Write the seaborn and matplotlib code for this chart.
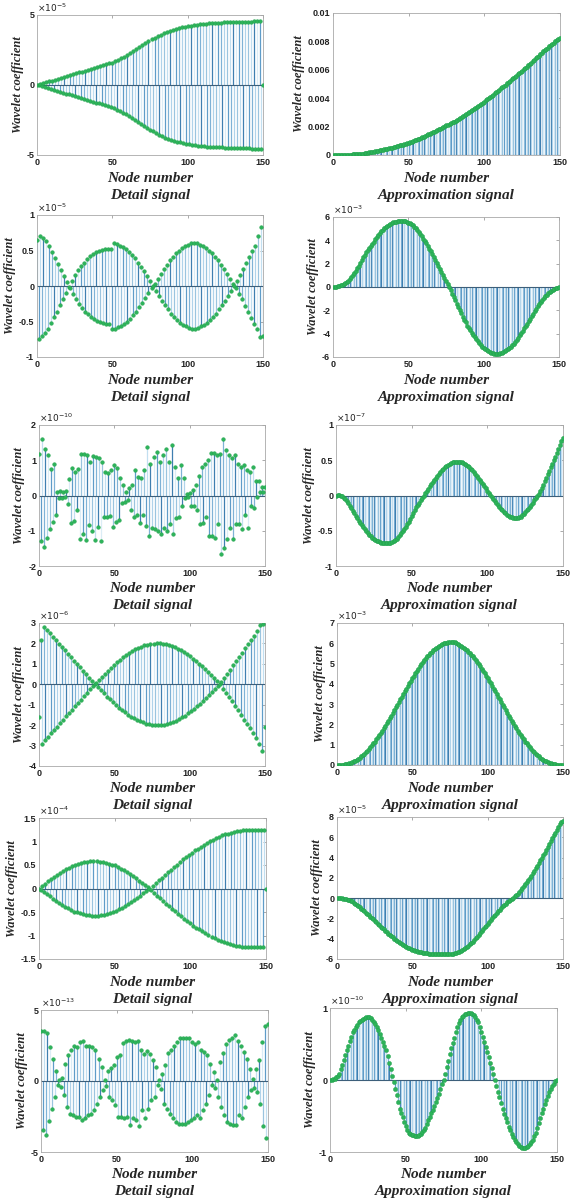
import numpy as np
import matplotlib
matplotlib.use('Agg')
import matplotlib.pyplot as plt
import seaborn as sns

# =====================================
# Data (values in units of the axis multiplier, node 0..150)
# =====================================
nodes = np.arange(151)

detail_1 = [
    0.00, -0.03, 0.06, -0.10, 0.13, -0.16, 0.19, -0.22, 0.26, -0.29,
    0.32, -0.35, 0.38, -0.42, 0.45, -0.48, 0.51, -0.54, 0.58, -0.61,
    0.64, -0.67, 0.70, -0.74, 0.77, -0.80, 0.83, -0.86, 0.90, -0.93,
    0.96, -0.99, 1.02, -1.06, 1.09, -1.12, 1.15, -1.18, 1.22, -1.25,
    1.28, -1.31, 1.34, -1.38, 1.41, -1.44, 1.47, -1.50, 1.54, -1.57,
    1.60, -1.65, 1.70, -1.75, 1.80, -1.85, 1.91, -1.97, 2.03, -2.09,
    2.15, -2.22, 2.29, -2.36, 2.43, -2.50, 2.57, -2.64, 2.71, -2.78,
    2.85, -2.92, 2.99, -3.06, 3.13, -3.20, 3.26, -3.32, 3.38, -3.44,
    3.50, -3.55, 3.60, -3.65, 3.70, -3.75, 3.79, -3.83, 3.87, -3.91,
    3.95, -3.98, 4.01, -4.04, 4.07, -4.10, 4.12, -4.14, 4.16, -4.18,
    4.20, -4.22, 4.24, -4.26, 4.28, -4.30, 4.31, -4.33, 4.34, -4.36,
    4.37, -4.38, 4.39, -4.40, 4.41, -4.42, 4.43, -4.43, 4.44, -4.44,
    4.45, -4.45, 4.46, -4.46, 4.47, -4.47, 4.48, -4.48, 4.49, -4.49,
    4.50, -4.50, 4.50, -4.51, 4.51, -4.51, 4.52, -4.52, 4.52, -4.53,
    4.53, -4.53, 4.53, -4.54, 4.54, -4.54, 4.54, -4.55, 4.55, -4.55, 0.00]

detail_2 = [
    0.65, -0.75, 0.70, -0.71, 0.68, -0.66, 0.63, -0.60, 0.56, -0.52,
    0.48, -0.44, 0.40, -0.36, 0.31, -0.27, 0.23, -0.18, 0.14, -0.10,
    0.05, -0.01, -0.03, 0.07, -0.11, 0.15, -0.18, 0.22, -0.25, 0.28,
    -0.31, 0.33, -0.36, 0.38, -0.40, 0.42, -0.44, 0.45, -0.47, 0.48,
    -0.49, 0.50, -0.51, 0.51, -0.52, 0.52, -0.53, 0.52, -0.54, 0.52,
    -0.60, 0.60, -0.60, 0.59, -0.58, 0.57, -0.56, 0.55, -0.54, 0.52,
    -0.50, 0.48, -0.46, 0.44, -0.41, 0.39, -0.36, 0.33, -0.30, 0.27,
    -0.24, 0.21, -0.17, 0.14, -0.10, 0.07, -0.03, 0.00, 0.03, -0.07,
    0.10, -0.14, 0.17, -0.21, 0.24, -0.27, 0.30, -0.33, 0.36, -0.39,
    0.41, -0.44, 0.46, -0.48, 0.50, -0.52, 0.54, -0.55, 0.56, -0.57,
    0.58, -0.59, 0.60, -0.60, 0.60, -0.60, 0.60, -0.59, 0.58, -0.57,
    0.56, -0.55, 0.54, -0.52, 0.50, -0.48, 0.46, -0.44, 0.41, -0.39,
    0.36, -0.33, 0.30, -0.27, 0.24, -0.21, 0.17, -0.14, 0.10, -0.07,
    0.03, 0.00, -0.03, 0.07, -0.11, 0.15, -0.19, 0.24, -0.28, 0.32,
    -0.36, 0.41, -0.45, 0.49, -0.53, 0.57, -0.61, 0.70, -0.72, 0.83, -0.70]

detail_3 = [
    1.19, -1.30, 1.60, -1.45, 1.33, -1.20, 1.14, -0.95, 0.75, -0.75,
    0.90, -0.55, 0.10, -0.08, 0.12, -0.06, 0.10, -0.05, 0.12, -0.25,
    0.48, -0.78, 0.77, -0.72, 0.67, -0.40, 0.75, -1.22, 1.19, -1.08,
    1.17, -1.25, 1.14, -0.85, 0.95, -1.00, 1.12, -1.25, 1.10, -0.90,
    1.05, -1.30, 0.95, -0.60, 0.67, -0.62, 0.63, -0.58, 0.72, -0.88,
    0.86, -0.75, 0.77, -0.70, 0.49, -0.20, 0.30, -0.18, 0.11, -0.12,
    0.20, -0.40, 0.30, -0.60, 0.72, -0.55, 0.53, -0.78, 0.50, -0.55,
    0.72, -0.87, 1.37, -1.15, 0.90, -0.92, 1.10, -0.96, 1.23, -1.00,
    0.95, -1.10, 1.14, -0.92, 1.33, -1.00, 0.95, -0.82, 1.42, -1.10,
    0.81, -0.64, 0.49, -0.60, 0.86, -0.30, 0.49, -0.08, 0.03, -0.04,
    0.08, -0.30, 0.15, -0.30, 0.30, -0.40, 0.55, -0.82, 0.80, -0.78,
    0.90, -0.60, 1.00, -1.15, 1.20, -1.15, 1.20, -1.20, 1.14, -0.82,
    1.19, -1.66, 1.60, -1.48, 1.28, -1.24, 1.14, -0.92, 1.05, -1.24,
    1.14, -0.82, 0.90, -0.82, 0.81, -0.96, 0.86, -0.54, 0.72, -0.92,
    0.67, -0.30, 0.80, -0.35, 0.40, -0.03, 0.40, 0.11, 0.25, 0.10, 0.25]

detail_4 = [
    -1.60, 2.15, -2.90, 2.82, -2.74, 2.65, -2.57, 2.49, -2.40, 2.32,
    -2.24, 2.16, -2.07, 1.99, -1.91, 1.82, -1.74, 1.66, -1.57, 1.49,
    -1.41, 1.33, -1.24, 1.16, -1.08, 0.99, -0.91, 0.83, -0.75, 0.66,
    -0.58, 0.50, -0.41, 0.33, -0.25, 0.17, -0.08, 0.00, 0.08, -0.15,
    0.23, -0.30, 0.38, -0.45, 0.52, -0.60, 0.67, -0.74, 0.81, -0.88,
    0.95, -1.01, 1.08, -1.14, 1.20, -1.26, 1.32, -1.37, 1.43, -1.48,
    1.53, -1.58, 1.62, -1.67, 1.71, -1.74, 1.78, -1.81, 1.84, -1.87,
    1.90, -1.92, 1.94, -1.96, 1.97, -1.98, 1.99, -2.00, 2.00, -2.00,
    2.00, -1.99, 1.98, -1.97, 1.96, -1.94, 1.92, -1.90, 1.87, -1.84,
    1.81, -1.78, 1.74, -1.71, 1.67, -1.62, 1.58, -1.53, 1.48, -1.43,
    1.37, -1.32, 1.26, -1.20, 1.14, -1.08, 1.01, -0.95, 0.88, -0.81,
    0.74, -0.67, 0.60, -0.52, 0.45, -0.38, 0.30, -0.23, 0.15, -0.08,
    0.00, 0.10, -0.21, 0.31, -0.41, 0.52, -0.62, 0.72, -0.83, 0.93,
    -1.05, 1.14, -1.28, 1.34, -1.52, 1.55, -1.75, 1.76, -1.95, 1.97,
    -2.15, 2.17, -2.40, 2.38, -2.65, 2.59, -2.90, 2.90, -3.25, 2.95, -2.10]

detail_5 = [
    0.00, -0.03, 0.05, -0.08, 0.10, -0.12, 0.15, -0.17, 0.20, -0.22,
    0.24, -0.27, 0.29, -0.31, 0.33, -0.35, 0.37, -0.39, 0.41, -0.42,
    0.44, -0.46, 0.47, -0.49, 0.50, -0.51, 0.52, -0.53, 0.54, -0.55,
    0.56, -0.56, 0.57, -0.57, 0.58, -0.58, 0.58, -0.58, 0.58, -0.58,
    0.57, -0.57, 0.56, -0.56, 0.55, -0.54, 0.53, -0.52, 0.51, -0.50,
    0.49, -0.47, 0.46, -0.44, 0.42, -0.41, 0.39, -0.37, 0.35, -0.33,
    0.31, -0.29, 0.27, -0.24, 0.22, -0.20, 0.17, -0.15, 0.12, -0.10,
    0.08, -0.05, 0.03, 0.00, -0.03, 0.06, -0.09, 0.12, -0.15, 0.18,
    -0.20, 0.23, -0.26, 0.29, -0.32, 0.35, -0.38, 0.40, -0.43, 0.46,
    -0.48, 0.51, -0.54, 0.56, -0.59, 0.62, -0.64, 0.67, -0.69, 0.72,
    -0.74, 0.76, -0.79, 0.81, -0.83, 0.85, -0.87, 0.89, -0.91, 0.93,
    -0.95, 0.97, -0.99, 1.01, -1.03, 1.04, -1.06, 1.07, -1.09, 1.10,
    -1.12, 1.13, -1.14, 1.15, -1.16, 1.17, -1.18, 1.19, -1.20, 1.21,
    -1.22, 1.22, -1.23, 1.23, -1.24, 1.24, -1.24, 1.25, -1.25, 1.25,
    -1.25, 1.25, -1.25, 1.25, -1.25, 1.25, -1.25, 1.25, -1.25, 1.25, 0.00]

detail_6 = [
    3.50, -3.46, 3.50, -3.80, 3.35, -2.80, 2.40, -1.94, 1.56, -1.12,
    0.70, -0.30, 0.10, -0.45, 0.20, -1.00, 1.20, -1.80, 1.80, -2.30,
    2.20, -2.40, 2.50, -2.50, 2.40, -2.50, 2.73, -2.75, 2.80, -2.60,
    2.43, -2.40, 2.43, -2.30, 2.40, -2.05, 2.15, -1.60, 1.57, -1.12,
    1.00, -0.65, 0.10, -0.37, 0.68, -1.10, 0.90, -1.35, 1.10, -1.70,
    1.70, -2.57, 1.80, -2.50, 2.66, -2.60, 2.80, -2.50, 2.90, -3.10,
    2.85, -2.60, 2.73, -2.75, 2.80, -3.20, 2.15, -2.05, 1.90, -2.60,
    2.10, -1.94, 1.90, -1.35, 1.50, -1.10, 1.00, -0.30, 0.10, -0.54,
    0.50, -1.60, 1.10, -1.94, 1.96, -2.30, 2.20, -2.60, 2.50, -2.87,
    2.73, -3.00, 3.04, -3.00, 3.04, -3.04, 3.04, -2.87, 3.04, -2.75,
    2.73, -2.60, 2.60, -2.40, 2.73, -2.60, 2.15, -2.05, 2.03, -1.60,
    1.80, -1.00, 1.20, -0.30, 0.63, -0.47, 0.05, -1.10, 1.33, -1.80,
    2.00, -2.40, 2.60, -2.87, 2.90, -3.00, 3.04, -3.10, 3.25, -3.10,
    2.85, -2.40, 2.50, -2.60, 2.03, -1.80, 1.56, -1.12, 0.86, -0.65,
    0.16, -0.47, 0.86, -0.77, 1.45, -1.60, 2.73, -3.20, 3.90, -4.00, 4.00]

approx_1 = [
    0.00, 0.00, 0.00, 0.00, 0.01, 0.01, 0.01, 0.01, 0.02, 0.02,
    0.02, 0.03, 0.03, 0.04, 0.05, 0.05, 0.06, 0.07, 0.08, 0.09,
    0.10, 0.12, 0.14, 0.16, 0.18, 0.20, 0.22, 0.24, 0.26, 0.28,
    0.30, 0.32, 0.35, 0.37, 0.40, 0.42, 0.45, 0.47, 0.50, 0.52,
    0.55, 0.58, 0.61, 0.64, 0.67, 0.70, 0.73, 0.76, 0.79, 0.82,
    0.85, 0.89, 0.94, 0.98, 1.03, 1.07, 1.12, 1.16, 1.21, 1.25,
    1.30, 1.35, 1.40, 1.45, 1.50, 1.55, 1.60, 1.65, 1.70, 1.75,
    1.80, 1.86, 1.91, 1.97, 2.02, 2.08, 2.13, 2.19, 2.24, 2.30,
    2.35, 2.42, 2.48, 2.55, 2.61, 2.68, 2.74, 2.81, 2.87, 2.94,
    3.00, 3.08, 3.15, 3.23, 3.30, 3.38, 3.45, 3.53, 3.60, 3.68,
    3.75, 3.84, 3.92, 4.01, 4.09, 4.18, 4.26, 4.35, 4.43, 4.52,
    4.60, 4.69, 4.78, 4.87, 4.96, 5.05, 5.14, 5.23, 5.32, 5.41,
    5.50, 5.59, 5.68, 5.77, 5.86, 5.95, 6.04, 6.13, 6.22, 6.31,
    6.40, 6.50, 6.60, 6.70, 6.80, 6.90, 7.00, 7.10, 7.20, 7.30,
    7.40, 7.49, 7.57, 7.66, 7.74, 7.83, 7.91, 8.00, 8.08, 8.17, 8.25]

approx_2 = [
    0.00, 0.01, 0.02, 0.05, 0.09, 0.14, 0.20, 0.28, 0.36, 0.45,
    0.55, 0.69, 0.84, 1.00, 1.20, 1.40, 1.60, 1.83, 2.07, 2.30,
    2.53, 2.77, 3.00, 3.18, 3.35, 3.53, 3.70, 3.90, 4.10, 4.30,
    4.47, 4.63, 4.80, 4.92, 5.03, 5.14, 5.25, 5.33, 5.42, 5.50,
    5.54, 5.58, 5.61, 5.65, 5.67, 5.69, 5.70, 5.67, 5.64, 5.60,
    5.52, 5.45, 5.40, 5.28, 5.17, 5.05, 4.88, 4.72, 4.55, 4.35,
    4.15, 3.95, 3.73, 3.52, 3.30, 3.05, 2.80, 2.55, 2.30, 2.05,
    1.80, 1.55, 1.30, 1.05, 0.78, 0.50, 0.25, 0.00, -0.29, -0.58,
    -0.87, -1.15, -1.44, -1.72, -1.99, -2.26, -2.53, -2.79, -3.04, -3.30,
    -3.51, -3.72, -3.93, -4.12, -4.30, -4.49, -4.65, -4.81, -4.97, -5.10,
    -5.22, -5.35, -5.43, -5.52, -5.60, -5.64, -5.68, -5.72, -5.75, -5.73,
    -5.70, -5.68, -5.65, -5.58, -5.50, -5.43, -5.35, -5.23, -5.10, -4.98,
    -4.85, -4.68, -4.50, -4.33, -4.15, -3.95, -3.75, -3.55, -3.35, -3.14,
    -2.93, -2.71, -2.50, -2.29, -2.08, -1.86, -1.65, -1.48, -1.30, -1.13,
    -0.95, -0.81, -0.68, -0.54, -0.40, -0.32, -0.23, -0.15, -0.10, -0.05, 0.00]

approx_3 = [
    0.00, 0.01, 0.01, 0.00, -0.01, -0.03, -0.05, -0.08, -0.11, -0.15,
    -0.18, -0.22, -0.25, -0.29, -0.32, -0.36, -0.39, -0.42, -0.45, -0.48,
    -0.51, -0.53, -0.56, -0.58, -0.60, -0.62, -0.63, -0.64, -0.65, -0.66,
    -0.67, -0.67, -0.68, -0.68, -0.68, -0.67, -0.67, -0.66, -0.64, -0.63,
    -0.61, -0.59, -0.56, -0.53, -0.50, -0.47, -0.44, -0.40, -0.37, -0.33,
    -0.29, -0.25, -0.21, -0.17, -0.13, -0.10, -0.06, -0.03, 0.00, 0.03,
    0.06, 0.09, 0.13, 0.16, 0.19, 0.22, 0.25, 0.28, 0.31, 0.33,
    0.36, 0.38, 0.40, 0.42, 0.43, 0.45, 0.46, 0.47, 0.47, 0.48,
    0.48, 0.48, 0.47, 0.47, 0.46, 0.45, 0.43, 0.42, 0.40, 0.38,
    0.36, 0.33, 0.31, 0.28, 0.25, 0.22, 0.19, 0.16, 0.13, 0.10,
    0.07, 0.04, 0.01, -0.02, -0.05, -0.08, -0.11, -0.14, -0.16, -0.19,
    -0.21, -0.23, -0.25, -0.27, -0.29, -0.30, -0.31, -0.32, -0.32, -0.32,
    -0.32, -0.31, -0.30, -0.28, -0.26, -0.24, -0.21, -0.19, -0.16, -0.13,
    -0.10, -0.07, -0.04, -0.01, 0.02, 0.06, 0.10, 0.15, 0.20, 0.25,
    0.30, 0.35, 0.40, 0.45, 0.50, 0.55, 0.60, 0.66, 0.71, 0.77, 0.82]

approx_4 = [
    0.00, 0.00, 0.00, 0.01, 0.02, 0.03, 0.05, 0.07, 0.09, 0.11,
    0.14, 0.18, 0.22, 0.27, 0.31, 0.36, 0.43, 0.49, 0.56, 0.63,
    0.70, 0.79, 0.88, 0.97, 1.06, 1.15, 1.26, 1.36, 1.47, 1.58,
    1.69, 1.81, 1.94, 2.06, 2.19, 2.31, 2.44, 2.58, 2.71, 2.84,
    2.97, 3.10, 3.24, 3.37, 3.51, 3.64, 3.77, 3.90, 4.02, 4.15,
    4.28, 4.40, 4.52, 4.63, 4.75, 4.87, 4.97, 5.07, 5.16, 5.26,
    5.36, 5.44, 5.51, 5.59, 5.66, 5.74, 5.79, 5.83, 5.88, 5.92,
    5.97, 5.99, 6.01, 6.02, 6.04, 6.05, 6.05, 6.05, 6.04, 6.01,
    5.97, 5.92, 5.88, 5.83, 5.79, 5.74, 5.66, 5.59, 5.51, 5.44,
    5.36, 5.26, 5.16, 5.07, 4.97, 4.87, 4.75, 4.63, 4.52, 4.40,
    4.28, 4.15, 4.02, 3.90, 3.77, 3.64, 3.51, 3.37, 3.24, 3.10,
    2.97, 2.84, 2.71, 2.58, 2.44, 2.31, 2.19, 2.06, 1.94, 1.81,
    1.69, 1.58, 1.47, 1.36, 1.26, 1.15, 1.06, 0.97, 0.88, 0.79,
    0.70, 0.63, 0.56, 0.49, 0.43, 0.36, 0.31, 0.27, 0.22, 0.18,
    0.14, 0.11, 0.09, 0.07, 0.05, 0.03, 0.02, 0.01, 0.00, 0.00, 0.00]

approx_5 = [
    0.00, 0.00, -0.01, -0.03, -0.05, -0.08, -0.12, -0.16, -0.21, -0.27,
    -0.33, -0.44, -0.55, -0.66, -0.78, -0.90, -1.03, -1.16, -1.29, -1.42,
    -1.55, -1.68, -1.82, -1.96, -2.10, -2.24, -2.38, -2.52, -2.66, -2.80,
    -2.94, -3.08, -3.22, -3.36, -3.49, -3.62, -3.75, -3.87, -3.99, -4.11,
    -4.22, -4.33, -4.43, -4.53, -4.62, -4.71, -4.79, -4.87, -4.94, -5.01,
    -5.07, -5.13, -5.18, -5.23, -5.27, -5.31, -5.35, -5.38, -5.41, -5.43,
    -5.45, -5.47, -5.49, -5.50, -5.51, -5.52, -5.53, -5.54, -5.54, -5.55,
    -5.55, -5.55, -5.55, -5.54, -5.53, -5.51, -5.49, -5.46, -5.42, -5.38,
    -5.33, -5.27, -5.20, -5.12, -5.03, -4.93, -4.82, -4.70, -4.57, -4.43,
    -4.28, -4.13, -3.97, -3.80, -3.63, -3.45, -3.27, -3.08, -2.89, -2.70,
    -2.51, -2.33, -2.15, -1.97, -1.80, -1.63, -1.46, -1.29, -1.13, -0.97,
    -0.82, -0.67, -0.53, -0.40, -0.28, -0.16, -0.05, 0.06, 0.18, 0.30,
    0.45, 0.62, 0.80, 0.99, 1.18, 1.37, 1.56, 1.76, 1.96, 2.20,
    2.45, 2.70, 2.95, 3.20, 3.46, 3.72, 3.98, 4.24, 4.50, 4.78,
    5.06, 5.34, 5.62, 5.90, 6.18, 6.46, 6.74, 7.02, 7.30, 7.48, 7.65]

approx_6 = [
    0.00, 0.00, 0.01, 0.02, 0.04, 0.06, 0.09, 0.15, 0.21, 0.28,
    0.35, 0.41, 0.47, 0.54, 0.60, 0.66, 0.70, 0.73, 0.77, 0.80,
    0.82, 0.84, 0.85, 0.86, 0.87, 0.87, 0.87, 0.86, 0.84, 0.81,
    0.78, 0.74, 0.70, 0.64, 0.59, 0.53, 0.47, 0.42, 0.33, 0.24,
    0.15, 0.06, -0.03, -0.12, -0.21, -0.31, -0.40, -0.46, -0.52, -0.58,
    -0.64, -0.69, -0.73, -0.75, -0.76, -0.77, -0.78, -0.78, -0.78, -0.77,
    -0.75, -0.72, -0.69, -0.66, -0.61, -0.56, -0.51, -0.46, -0.41, -0.36,
    -0.31, -0.25, -0.19, -0.12, -0.06, 0.00, 0.09, 0.18, 0.27, 0.36,
    0.44, 0.52, 0.59, 0.66, 0.73, 0.79, 0.84, 0.87, 0.89, 0.91,
    0.92, 0.93, 0.93, 0.93, 0.92, 0.90, 0.87, 0.84, 0.80, 0.74,
    0.67, 0.60, 0.53, 0.46, 0.39, 0.32, 0.24, 0.16, 0.08, 0.00,
    -0.08, -0.16, -0.24, -0.32, -0.40, -0.47, -0.53, -0.59, -0.65, -0.70,
    -0.75, -0.79, -0.83, -0.86, -0.89, -0.91, -0.93, -0.94, -0.94, -0.94,
    -0.93, -0.91, -0.89, -0.86, -0.83, -0.78, -0.73, -0.67, -0.60, -0.53,
    -0.46, -0.40, -0.34, -0.28, -0.22, -0.17, -0.13, -0.09, -0.05, -0.02, 0.00]

detail_data = [detail_1, detail_2, detail_3, detail_4, detail_5, detail_6]
approx_data = [approx_1, approx_2, approx_3, approx_4, approx_5, approx_6]

detail_exp = [-5, -5, -10, -6, -4, -13]
approx_exp = [None, -3, -7, -3, -5, -10]

detail_ylim = [(-5, 5), (-1, 1), (-2, 2), (-4, 3), (-1.5, 1.5), (-5, 5)]
detail_yticks = [[-5, 0, 5], [-1, -0.5, 0, 0.5, 1], [-2, -1, 0, 1, 2],
                 [-4, -3, -2, -1, 0, 1, 2, 3], [-1.5, -1, -0.5, 0, 0.5, 1, 1.5],
                 [-5, 0, 5]]
approx_ylim = [(0, 10), (-6, 6), (-1, 1), (0, 7), (-6, 8), (-1, 1)]
approx_yticks = [[0, 2, 4, 6, 8, 10], [-6, -4, -2, 0, 2, 4, 6],
                 [-1, -0.5, 0, 0.5, 1], [0, 1, 2, 3, 4, 5, 6, 7],
                 [-6, -4, -2, 0, 2, 4, 6, 8], [-1, 0, 1]]
approx_1_ticklabels = ['0', '0.002', '0.004', '0.006', '0.008', '0.01']
x_ticks = [0, 50, 100, 150]

# =====================================
# Layout (pixel boxes: left, top, right, bottom)
# =====================================
W, H = 571, 1200
left_boxes = [(37, 15, 263, 155), (37, 215, 263, 357), (39, 425, 265, 566),
              (39, 623, 265, 766), (39, 818, 266, 959), (41, 1010, 268, 1152)]
right_boxes = [(333, 13, 560, 155), (333, 217, 559, 357), (336, 425, 563, 566),
               (337, 623, 563, 765), (337, 817, 563, 959), (330, 1008, 557, 1152)]

stem_colors = ['#9ac4df', '#5f9cc8', '#c2dff0', '#7fb2d6', '#3f7fb0', '#b0d3ea', '#dbecf6']
green = '#2db35a'
serif_bi = dict(family='Liberation Serif', weight='bold', style='italic')

sns.set_theme(style='white')
plt.rcParams['font.family'] = ['Liberation Sans', 'DejaVu Sans']
plt.rcParams['axes.unicode_minus'] = False

fig = plt.figure(figsize=(W / 100, H / 100), dpi=100)
fig.patch.set_facecolor('white')


def make_axes(box):
    l, t, r, b = box
    return fig.add_axes([l / W, 1 - b / H, (r - l) / W, (b - t) / H])


def draw_panel(box, vals, ylim, yticks, exp, caption, ticklabels=None, msize=7):
    ax = make_axes(box)
    vals = np.array(vals)
    cols = [stem_colors[i % len(stem_colors)] for i in range(len(vals))]
    ax.vlines(nodes, 0, vals, colors=cols, lw=0.9, zorder=1)
    ax.axhline(0, color='#3d5f7a', lw=0.8, zorder=2)
    sns.scatterplot(x=nodes, y=vals, ax=ax, color=green, s=msize,
                    edgecolor='#20a04a', linewidth=0.3, zorder=3, legend=False)
    ax.set_xlim(0, 150)
    ax.set_ylim(*ylim)
    ax.set_xticks(x_ticks)
    ax.set_xticklabels([str(t) for t in x_ticks])
    ax.set_yticks(yticks)
    if ticklabels is None:
        ticklabels = ['%g' % t for t in yticks]
    ax.set_yticklabels(ticklabels)
    ax.tick_params(direction='in', length=2.5, width=0.5, color='#888888',
                   top=True, right=True, labelsize=6.5, labelcolor='#222222', pad=2)
    for lab in ax.get_xticklabels() + ax.get_yticklabels():
        lab.set_fontweight('bold')
    for sp in ax.spines.values():
        sp.set_color('#a8a8a8')
        sp.set_linewidth(0.6)
    ax.set_xlabel('')
    ax.set_ylabel('Wavelet coefficient', fontsize=9, labelpad=2, **serif_bi)
    if exp is not None:
        ax.text(0, 1.005, r'$\times10^{%d}$' % exp, transform=ax.transAxes,
                ha='left', va='bottom', fontsize=6.5, color='#222222')
    l, t, r, b = box
    cx = (l + r) / 2 / W
    fig.text(cx, 1 - (b + 23) / H, 'Node number', ha='center', va='center',
             fontsize=11, **serif_bi)
    fig.text(cx, 1 - (b + 40) / H, caption, ha='center', va='center',
             fontsize=11, **serif_bi)
    return ax


for i in range(6):
    draw_panel(left_boxes[i], detail_data[i], detail_ylim[i], detail_yticks[i],
               detail_exp[i], 'Detail signal', msize=7)
    draw_panel(right_boxes[i], approx_data[i], approx_ylim[i], approx_yticks[i],
               approx_exp[i], 'Approximation signal',
               ticklabels=approx_1_ticklabels if i == 0 else None, msize=9)

fig.savefig('out.png', dpi=100)
